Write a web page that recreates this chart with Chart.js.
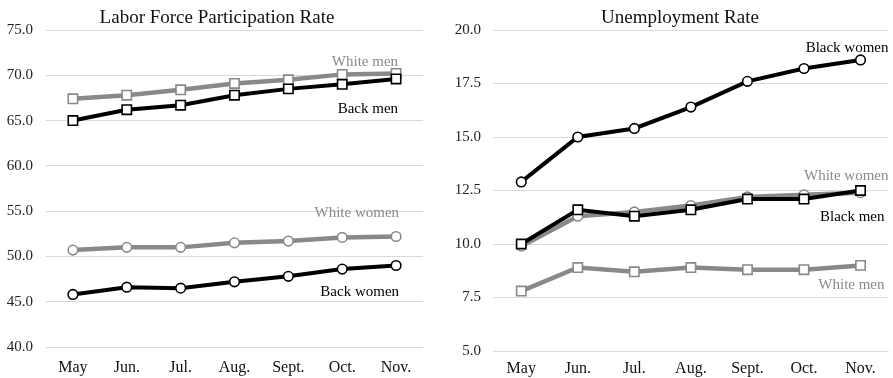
<!DOCTYPE html>
<html>
<head>
<meta charset="utf-8">
<script src="https://cdn.jsdelivr.net/npm/chart.js@4/dist/chart.umd.min.js"></script>
<style>
  html, body { margin: 0; padding: 0; background: #fff; }
  #wrap { position: relative; width: 893px; height: 378px; overflow: hidden; }
  .box { position: absolute; top: 0; height: 378px; }
  #lfpr-box { left: 0; width: 440px; }
  #unemp-box { left: 446px; width: 451px; }
  .title {
    position: absolute; top: 6px; height: 23px; line-height: 22.8px;
    text-align: center; white-space: nowrap;
    font: 19px 'Liberation Serif', 'Times New Roman', serif; color: #111;
  }
  #lfpr-title { left: 17px; width: 400px; }
  #unemp-title { left: 480px; width: 400px; }
</style>
</head>
<body>
<div id="wrap">
  <div class="box" id="lfpr-box"><canvas id="lfpr"></canvas></div>
  <div class="box" id="unemp-box"><canvas id="unemp"></canvas></div>
  <div class="title" id="lfpr-title">Labor Force Participation Rate</div>
  <div class="title" id="unemp-title">Unemployment Rate</div>
</div>
<script>
const months = ['May', 'Jun.', 'Jul.', 'Aug.', 'Sept.', 'Oct.', 'Nov.'];

// labor force participation, %
const lfprWhiteMen = [67.4, 67.8, 68.4, 69.1, 69.5, 70.1, 70.2];
const lfprBlackMen = [65.0, 66.2, 66.7, 67.8, 68.5, 69.0, 69.6];
const lfprWhiteWomen = [50.7, 51.0, 51.0, 51.5, 51.7, 52.1, 52.2];
const lfprBlackWomen = [45.8, 46.6, 46.5, 47.2, 47.8, 48.6, 49.0];

// unemployment, %
const unempBlackWomen = [12.9, 15.0, 15.4, 16.4, 17.6, 18.2, 18.6];
const unempWhiteWomen = [9.9, 11.3, 11.5, 11.8, 12.2, 12.3, 12.4];
const unempBlackMen = [10.0, 11.6, 11.3, 11.6, 12.1, 12.1, 12.5];
const unempWhiteMen = [7.8, 8.9, 8.7, 8.9, 8.8, 8.8, 9.0];

const BLACK = '#000000';
const GREY = '#898989';
const SERIF = "'Liberation Serif', 'Times New Roman', serif";

Chart.defaults.font.family = SERIF;
Chart.defaults.color = '#222';

// writes each series name next to its last point
const seriesLabels = {
    id: 'seriesLabels',
    afterDatasetsDraw(chart, args, opts) {
        const ctx = chart.ctx;
        ctx.save();
        ctx.font = '15px ' + SERIF;
        ctx.textAlign = 'right';
        ctx.textBaseline = 'middle';
        opts.items.forEach(item => {
            const pts = chart.getDatasetMeta(item.dataset).data;
            const last = pts[pts.length - 1];
            ctx.fillStyle = item.color;
            ctx.fillText(item.text, last.x + item.dx, last.y + item.dy);
        });
        ctx.restore();
    }
};

function series(values, color, style, radius, width) {
    return {
        data: values,
        borderColor: color,
        borderWidth: width,
        pointStyle: style,
        pointRadius: radius,
        pointHoverRadius: radius,
        pointBackgroundColor: '#fff',
        pointBorderColor: color,
        pointBorderWidth: 1.6,
        tension: 0
    };
}

function makeChart(id, datasets, yMin, yMax, yStep, labels, lay) {
    return new Chart(document.getElementById(id), {
        type: 'line',
        data: { labels: months, datasets: datasets },
        options: {
            responsive: true,
            maintainAspectRatio: false,
            animation: false,
            // top padding leaves room for the html title
            layout: { padding: { left: 0, right: lay.right, top: 30, bottom: 0 } },
            plugins: {
                legend: { display: false },
                tooltip: { enabled: false },
                seriesLabels: { items: labels }
            },
            scales: {
                x: {
                    offset: true,
                    grid: { display: false, drawTicks: false },
                    border: { display: false },
                    ticks: { font: { size: 16 }, padding: lay.xPad, color: '#111' },
                    afterFit: s => { s.height = lay.xHeight; }
                },
                y: {
                    min: yMin,
                    max: yMax,
                    grid: { color: '#d9d9d9', drawTicks: false },
                    border: { display: false },
                    ticks: {
                        stepSize: yStep,
                        padding: lay.yPad,
                        font: { size: 15 },
                        color: '#222',
                        callback: v => v.toFixed(1)
                    },
                    afterFit: s => { s.width = lay.yWidth; }
                }
            }
        },
        plugins: [seriesLabels]
    });
}

makeChart('lfpr', [
    series(lfprBlackMen, BLACK, 'rect', 6.6, 4),
    series(lfprWhiteMen, GREY, 'rect', 6.6, 4.5),
    series(lfprBlackWomen, BLACK, 'circle', 4.8, 4),
    series(lfprWhiteWomen, GREY, 'circle', 4.8, 4.5)
], 40, 75, 5, [
    { text: 'White men', color: GREY, dataset: 1, dx: 2, dy: -11 },
    { text: 'Back men', color: BLACK, dataset: 0, dx: 2, dy: 30 },
    { text: 'White women', color: GREY, dataset: 3, dx: 3, dy: -23 },
    { text: 'Back women', color: BLACK, dataset: 2, dx: 3, dy: 27 }
], { right: 17, yWidth: 46, yPad: 13, xHeight: 31, xPad: 11 });

makeChart('unemp', [
    series(unempBlackMen, BLACK, 'rect', 6.6, 4),
    series(unempBlackWomen, BLACK, 'circle', 4.8, 4),
    series(unempWhiteWomen, GREY, 'circle', 4.8, 4.5),
    series(unempWhiteMen, GREY, 'rect', 6.6, 4.5)
], 5, 20, 2.5, [
    { text: 'Black women', color: BLACK, dataset: 1, dx: 28, dy: -12 },
    { text: 'White women', color: GREY, dataset: 2, dx: 28, dy: -17 },
    { text: 'Black men', color: BLACK, dataset: 0, dx: 24, dy: 27 },
    { text: 'White men', color: GREY, dataset: 3, dx: 24, dy: 20 }
], { right: 8, yWidth: 47, yPad: 12, xHeight: 27, xPad: 8 });
</script>
</body>
</html>
